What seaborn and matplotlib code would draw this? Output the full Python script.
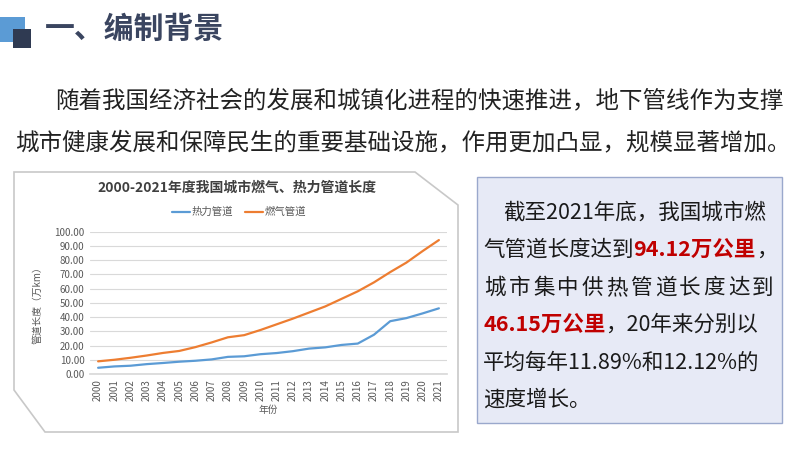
import numpy as np
import pandas as pd
import seaborn as sns
import matplotlib.pyplot as plt
from matplotlib.patches import Polygon, Rectangle

# ---------------- data ----------------
years = list(range(2000, 2022))
heat_pipe = [4.38, 5.32, 5.82, 6.94, 7.74, 8.64, 9.31, 10.26, 12.04, 12.45, 13.91,
             14.72, 16.04, 17.85, 18.72, 20.42, 21.38, 27.61, 37.11, 39.29, 42.60, 46.15]
gas_pipe = [8.9, 10.0, 11.4, 13.0, 14.8, 16.2, 18.9, 22.2, 25.8, 27.3, 30.9,
            34.9, 38.9, 43.2, 47.5, 52.8, 58.1, 64.4, 71.6, 78.3, 86.4, 94.12]
series_names = ['热力管道', '燃气管道']
y_ticks = [0, 10, 20, 30, 40, 50, 60, 70, 80, 90, 100]

df = pd.DataFrame({
    '年份': years * 2,
    '长度': heat_pipe + gas_pipe,
    '类型': [series_names[0]] * len(years) + [series_names[1]] * len(years),
})

sns.set_theme(style="white")
plt.rcParams['font.family'] = ['Noto Sans CJK SC', 'DejaVu Sans']

W, H = 800, 450
fig = plt.figure(figsize=(8, 4.5), dpi=100)
fig.patch.set_facecolor('white')


def fx(x):
    return x / W


def fy(y):
    return 1 - y / H


# ---------------- slide header ----------------
fig.patches.append(Rectangle((fx(0), fy(42)), fx(25), 25 / H, transform=fig.transFigure,
                             facecolor='#5b9bd5', edgecolor='none'))
fig.patches.append(Rectangle((fx(13), fy(48)), fx(18), 19 / H, transform=fig.transFigure,
                             facecolor='#2f3a52', edgecolor='none'))
fig.text(fx(45), fy(29), '一、编制背景', fontsize=21.5, fontweight='bold',
         color='#3a4560', va='center', ha='left')

para_color = '#222222'
fig.text(fx(55), fy(101), '随着我国经济社会的发展和城镇化进程的快速推进，地下管线作为支撑',
         fontsize=16.9, color=para_color, va='center', ha='left')
fig.text(fx(15), fy(143), '城市健康发展和保障民生的重要基础设施，作用更加凸显，规模显著增加。',
         fontsize=16.9, color=para_color, va='center', ha='left')

# ---------------- chart frame ----------------
frame = Polygon([(fx(14), fy(172)), (fx(415), fy(172)), (fx(458), fy(205)),
                 (fx(458), fy(432)), (fx(45), fy(432)), (fx(14), fy(390))],
                closed=True, transform=fig.transFigure, facecolor='white',
                edgecolor='#c8c8c8', linewidth=1.2, zorder=-5)
fig.patches.append(frame)

ax = fig.add_axes([fx(90), fy(374), (447 - 90) / W, (374 - 231.7) / H])
ax.set_zorder(2)
ax.set_facecolor('none')
sns.lineplot(data=df, x='年份', y='长度', hue='类型', palette=['#5b9bd5', '#ed7d31'],
             linewidth=1.6, ax=ax, legend=False)
ax.set_xlim(years[0] - 0.5, years[-1] + 0.5)
ax.set_ylim(0, 100)
ax.set_yticks(y_ticks)
ax.set_yticklabels([f'{v:.2f}' for v in y_ticks], fontsize=7, color='#595959')
ax.set_xticks(years)
ax.set_xticklabels([str(y) for y in years], rotation=90, fontsize=7, color='#595959')
ax.tick_params(axis='both', length=0, pad=4)
ax.grid(axis='y', color='#d9d9d9', linewidth=0.8)
for s in ['top', 'right', 'left']:
    ax.spines[s].set_visible(False)
ax.spines['bottom'].set_color('#d9d9d9')
ax.set_xlabel('')
ax.set_ylabel('')
ax.set_axisbelow(True)

fig.text(fx(37), fy(303), '管道长度（万km）', rotation=90, fontsize=7, color='#595959',
         va='center', ha='center')
fig.text(fx(268), fy(410), '年份', fontsize=7, color='#595959', va='center', ha='center')
fig.text(fx(237), fy(188), '2000-2021年度我国城市燃气、热力管道长度', fontsize=10,
         fontweight='bold', color='#404040', va='center', ha='center')

# legend
for name, col, x0 in zip(series_names, ['#5b9bd5', '#ed7d31'], [172, 245]):
    fig.lines.append(plt.Line2D([fx(x0), fx(x0 + 18)], [fy(212), fy(212)],
                                transform=fig.transFigure, color=col, linewidth=1.6))
    fig.text(fx(x0 + 20), fy(212), name, fontsize=7.5, color='#595959', va='center', ha='left')

# ---------------- right text box ----------------
fig.patches.append(Rectangle((fx(477), fy(423)), (782 - 477) / W, (423 - 177) / H,
                             transform=fig.transFigure, facecolor='#e7eaf6',
                             edgecolor='#9aa8cc', linewidth=1, zorder=-5))

renderer = fig.canvas.get_renderer()
box_fs = 15.5
red = '#c00000'


def put_runs(x, y, runs):
    cur = fx(x)
    for txt, col, wt in runs:
        t = fig.text(cur, fy(y), txt, fontsize=box_fs, color=col, fontweight=wt,
                     va='center', ha='left')
        bb = t.get_window_extent(renderer=renderer)
        cur += bb.width / W


put_runs(503, 213, [('截至2021年底，我国城市燃', '#1a1a1a', 'normal')])
put_runs(483, 250, [('气管道长度达到', '#1a1a1a', 'normal'), ('94.12万公里', red, 'bold'),
                    ('，', '#1a1a1a', 'normal')])
line3 = '城市集中供热管道长度达到'
step = (775 - 483) / len(line3)
for i, ch in enumerate(line3):
    fig.text(fx(483 + step * (i + 0.5)), fy(288), ch, fontsize=box_fs, color='#1a1a1a',
             va='center', ha='center')
put_runs(483, 325, [('46.15万公里', red, 'bold'), ('，20年来分别以', '#1a1a1a', 'normal')])
put_runs(483, 363, [('平均每年11.89%和12.12%的', '#1a1a1a', 'normal')])
put_runs(483, 400, [('速度增长。', '#1a1a1a', 'normal')])

fig.savefig('out.png', dpi=100)
